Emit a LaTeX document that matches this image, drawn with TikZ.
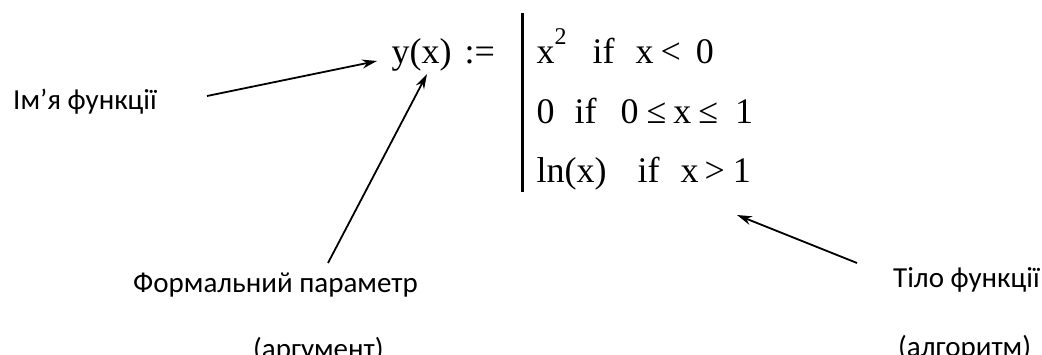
\documentclass[tikz,border=0pt]{standalone}
\usepackage{fontspec}
\setmainfont{Liberation Serif}
\newfontfamily\labfont{Carlito}
\usetikzlibrary{arrows.meta}
\tikzset{
  formula/.style={inner sep=0pt, anchor=base west, font=\fontsize{36}{36}\selectfont},
  lab/.style={inner sep=0pt, anchor=base west, font=\labfont\fontsize{29}{29}\selectfont},
  pointer/.style={line width=1.8pt, -{Stealth[length=15pt,width=9pt]}},
}
\begin{document}
\begin{tikzpicture}[x=1pt,y=-1pt]
\useasboundingbox (0,0) rectangle (1042,354);
\clip (0,0) rectangle (1042,354);
% formula
\node[formula] (yx) at (391.5,63) {y(x)\hspace{13pt}:=};
\draw[line width=3pt] (522,13) -- (522,192);
\node[formula] (r1) at (536.5,63) {x\raisebox{19pt}{\fontsize{24}{24}\selectfont 2}\hspace{26pt}if\hspace{21pt}x\hspace{7pt}<\hspace{15pt}0};
\node[formula] (r2) at (536.5,123) {0\hspace{20pt}if\hspace{24pt}0\hspace{8pt}≤\hspace{7pt}x\hspace{7pt}≤\hspace{17pt}1};
\node[formula] (r3) at (536.5,182) {ln(x)\hspace{31pt}if\hspace{21pt}x\hspace{6pt}>\hspace{8pt}1};
% labels
\node[lab] (name) at (13,109) {Ім’я функції};
\node[lab] (param) at (133,292) {Формальний параметр};
\node[lab] (arg) at (253,358) {(аргумент)};
\node[lab] (body) at (893,287) {Тіло функції};
\node[lab] (alg) at (898,356) {(алгоритм)};
% arrows
\coordinate (t1) at (207,96);  \coordinate (h1) at (377,61);
\coordinate (t2) at (328,263); \coordinate (h2) at (427,74);
\coordinate (t3) at (857,263); \coordinate (h3) at (737,215);
\draw[pointer] (t1) -- (h1);
\draw[pointer] (t2) -- (h2);
\draw[pointer] (t3) -- (h3);
\end{tikzpicture}
\end{document}
